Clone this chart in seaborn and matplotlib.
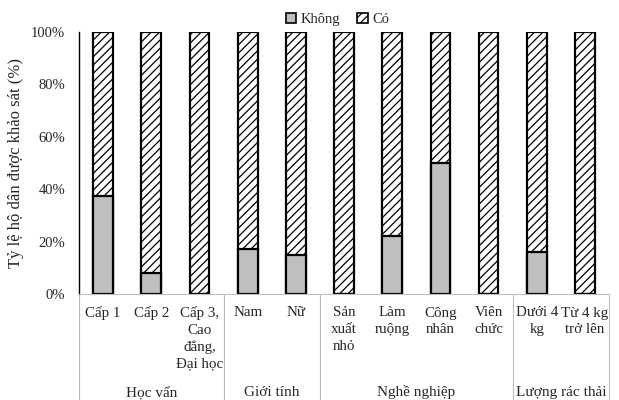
import pandas as pd
import matplotlib
matplotlib.use("Agg")
import matplotlib.pyplot as plt
import seaborn as sns
from matplotlib.patches import Patch
from matplotlib.transforms import blended_transform_factory

categories = ['Cấp 1', 'Cấp 2', 'Cấp 3,\nCao\nđẳng,\nĐại học', 'Nam', 'Nữ',
              'Sản\nxuất\nnhỏ', 'Làm\nruộng', 'Công\nnhân', 'Viên\nchức',
              'Dưới 4\nkg', 'Từ 4 kg\ntrở lên']
khong = [37.5, 8, 0, 17, 15, 0, 22, 50, 0, 16, 0]
co = [100 - v for v in khong]
groups = ['Học vấn', 'Giới tính', 'Nghề nghiệp', 'Lượng rác thải']
group_sizes = [3, 2, 4, 2]


def main():
    sns.set_style('white')
    plt.rcParams['font.family'] = ['Liberation Serif', 'DejaVu Serif']
    plt.rcParams['hatch.linewidth'] = 0.9
    plt.rcParams['hatch.color'] = '#4d4d4d'

    df = pd.DataFrame({'cat': categories, 'khong': khong, 'co': co})
    df['total'] = df['khong'] + df['co']

    fig = plt.figure(figsize=(6.19, 4.0), dpi=100)
    ax = fig.add_axes([0.1276, 0.265, 0.8564, 0.655])

    # "Có" part drawn as full bar, "Không" over it from the bottom
    sns.barplot(data=df, x='cat', y='total', order=categories, color='white',
                edgecolor='black', linewidth=1.6, hatch='////', width=0.41,
                saturation=1, ax=ax)
    sns.barplot(data=df, x='cat', y='khong', order=categories, color='#bfbfbf',
                edgecolor='black', linewidth=1.6, width=0.41, saturation=1, ax=ax)

    ax.set_xlim(-0.5, len(categories) - 0.5)
    ax.set_ylim(0, 100)
    ax.set_yticks(range(0, 101, 20))
    ax.set_yticklabels([f'{v}%' for v in range(0, 101, 20)], fontsize=10.5)
    ax.tick_params(axis='y', direction='out', length=3, width=1, color='black', pad=7)
    ax.tick_params(axis='x', length=0, pad=9, labelsize=10.8)
    ax.set_xticks(range(len(categories)))
    ax.set_xticklabels(categories, linespacing=1.35, va='top')
    ax.set_xlabel('')
    ax.set_ylabel('Tỷ lệ hộ dân được khảo sát (%)', fontsize=12, labelpad=5)

    for s in ['top', 'right']:
        ax.spines[s].set_visible(False)
    ax.spines['left'].set_color('black')
    ax.spines['left'].set_linewidth(1)
    ax.spines['bottom'].set_color('#bfbfbf')
    ax.spines['bottom'].set_linewidth(0.8)

    # group separators and group labels below the axis
    trans = blended_transform_factory(ax.transData, ax.transAxes)
    start = -0.5
    ax.plot([start, start], [0, -0.45], transform=trans, color='#bfbfbf',
            lw=0.8, clip_on=False)
    for name, size in zip(groups, group_sizes):
        end = start + size
        ax.plot([end, end], [0, -0.45], transform=trans, color='#bfbfbf',
                lw=0.8, clip_on=False)
        ax.text((start + end) / 2, -0.375, name, transform=trans, ha='center',
                va='center', fontsize=11)
        start = end

    handles = [Patch(facecolor='#bfbfbf', edgecolor='black', linewidth=1.2),
               Patch(facecolor='white', edgecolor='black', linewidth=1.2, hatch='////')]
    fig.legend(handles, ['Không', 'Có'], loc='upper center', bbox_to_anchor=(0.545, 1.0),
               ncol=2, frameon=False, fontsize=10.5, handlelength=0.7,
               handleheight=0.7, handletextpad=0.3, columnspacing=1.2)

    fig.savefig('out.png', dpi=100)


if __name__ == "__main__":
    main()
